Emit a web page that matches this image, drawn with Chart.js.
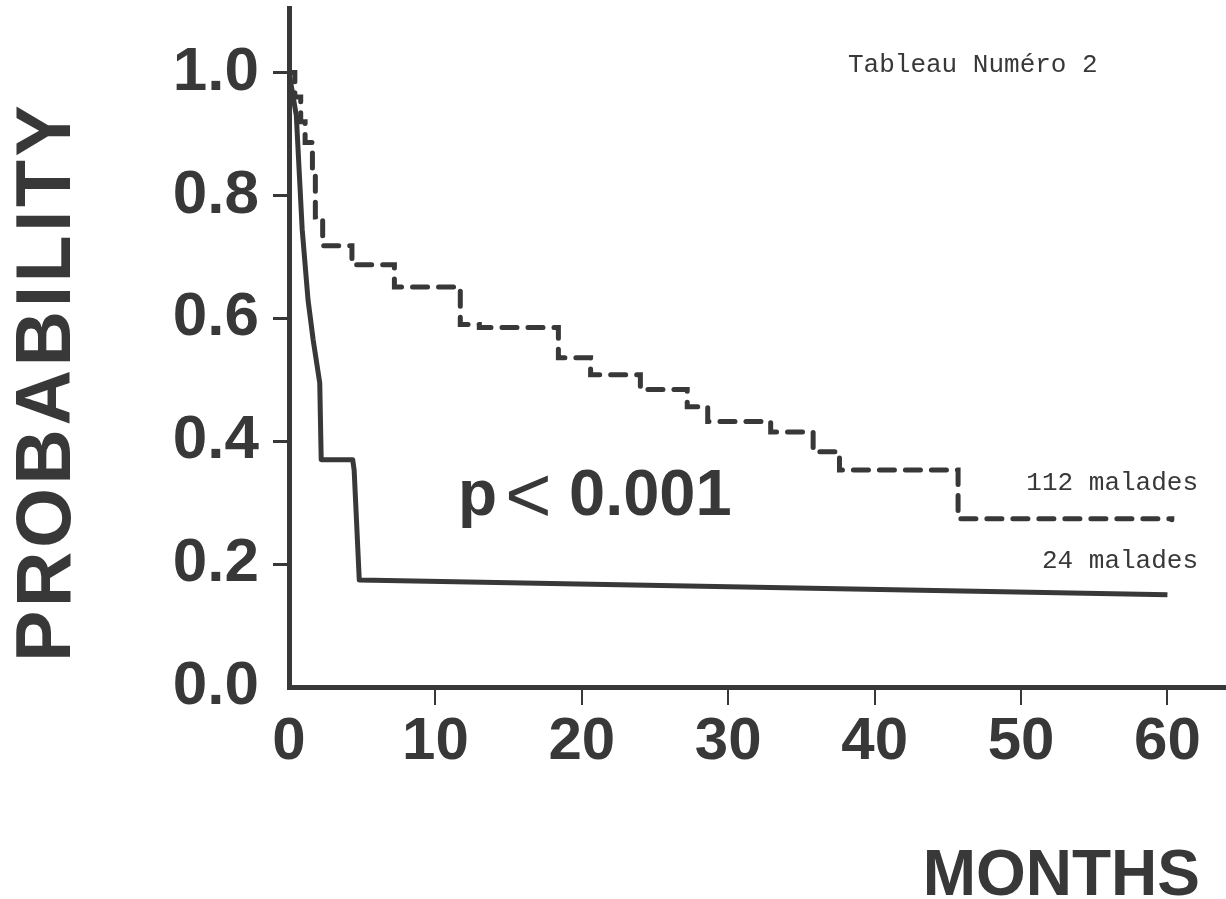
<!DOCTYPE html>
<html>
<head>
<meta charset="utf-8">
<script src="https://cdn.jsdelivr.net/npm/chart.js@4/dist/chart.umd.min.js"></script>
<style>
  body { margin: 0; background: #fff; }
  #wrap { width: 1226px; height: 899px; }
</style>
</head>
<body>
<div id="wrap"><canvas id="chart" width="1226" height="899"></canvas></div>
<script>
'use strict';
// values
var xTicks = [0, 10, 20, 30, 40, 50, 60];
var yTicks = [0, 0.2, 0.4, 0.6, 0.8, 1.0];

// 112 malades (dashed, step curve)
var months112 = [0, 0.4, 0.8, 1.1, 1.6, 1.8, 2.3, 4.3, 7.2, 11.7, 13.0, 18.4, 20.6, 24.0, 27.2, 28.6, 32.9, 35.8, 37.6, 45.7, 60.3];
var prob112 = [1.0, 0.96, 0.92, 0.886, 0.837, 0.765, 0.718, 0.687, 0.651, 0.590, 0.585, 0.536, 0.508, 0.484, 0.456, 0.432, 0.415, 0.383, 0.353, 0.274, 0.272];

// 24 malades (solid)
var months24 = [0, 0.5, 0.9, 1.3, 1.65, 2.1, 2.2, 4.35, 4.45, 4.8, 60.0];
var prob24 = [1.0, 0.93, 0.745, 0.63, 0.565, 0.495, 0.37, 0.37, 0.353, 0.174, 0.150];

var ink = '#383838';

function toPoints(xs, ys) {
  var pts = [];
  for (var i = 0; i < xs.length; i++) {
    pts.push({x: xs[i], y: ys[i]});
  }
  return pts;
}

// no tick mark at the origin
function tickColor(c) {
  return c.tick && c.tick.value === 0 ? 'rgba(0,0,0,0)' : ink;
}

// texts placed on top of the chart
var textPlugin = {
  id: 'texts',
  afterDraw: function(chart) {
    var ctx = chart.ctx;
    ctx.save();
    ctx.fillStyle = ink;
    ctx.textBaseline = 'alphabetic';

    ctx.font = '26px "Liberation Mono"';
    ctx.textAlign = 'left';
    ctx.fillText('Tableau Numéro 2', 848, 72);
    ctx.textAlign = 'right';
    ctx.fillText('112 malades', 1198, 490);
    ctx.fillText('24 malades', 1198, 568);

    ctx.textAlign = 'left';
    ctx.font = 'bold 64px "Liberation Sans"';
    ctx.fillText('p', 458, 515);
    ctx.font = '80px "Liberation Sans"';
    ctx.fillText('<', 505, 522);
    ctx.font = 'bold 65px "Liberation Sans"';
    ctx.fillText('0.001', 569, 515);

    ctx.font = 'bold 64px "Liberation Sans"';
    ctx.textAlign = 'right';
    ctx.fillText('MONTHS', 1200, 895);

    ctx.translate(70, 662);
    ctx.rotate(-Math.PI / 2);
    ctx.textAlign = 'left';
    ctx.font = 'bold 77px "Liberation Sans"';
    ctx.letterSpacing = '3.5px';
    ctx.fillText('PROBABILITY', 0, 0);
    ctx.restore();
  }
};

var ctx = document.getElementById('chart').getContext('2d');
new Chart(ctx, {
  type: 'line',
  data: {
    datasets: [
      {
        label: '112 malades',
        data: toPoints(months112, prob112),
        stepped: true,
        borderColor: ink,
        borderWidth: 5,
        borderDash: [15, 11],
        borderCapStyle: 'round',
        pointRadius: 0,
        fill: false
      },
      {
        label: '24 malades',
        data: toPoints(months24, prob24),
        borderColor: ink,
        borderWidth: 5,
        borderJoinStyle: 'round',
        pointRadius: 0,
        tension: 0,
        fill: false
      }
    ]
  },
  options: {
    responsive: false,
    animation: false,
    layout: { padding: { top: 8, right: 0, left: 0, bottom: 0 } },
    plugins: { legend: { display: false }, tooltip: { enabled: false } },
    scales: {
      x: {
        type: 'linear',
        min: 0,
        max: 64,
        afterBuildTicks: function(scale) {
          scale.ticks = xTicks.map(function(v) { return {value: v}; });
        },
        afterFit: function(scale) {
          scale.height = 212;
          scale.paddingLeft = 0;
          scale.paddingRight = 0;
        },
        border: { color: ink, width: 5 },
        grid: { drawOnChartArea: false, drawTicks: true, tickLength: 18, color: tickColor, lineWidth: 2 },
        ticks: {
          color: ink,
          padding: 1,
          maxRotation: 0,
          font: { family: 'Liberation Sans', weight: 'bold', size: 60 },
          callback: function(v) { return String(v); }
        }
      },
      y: {
        type: 'linear',
        min: 0,
        max: 1.105,
        afterBuildTicks: function(scale) {
          scale.ticks = yTicks.map(function(v) { return {value: v}; });
        },
        afterFit: function(scale) {
          scale.width = 289;
          scale.paddingTop = 0;
          scale.paddingBottom = 0;
        },
        border: { color: ink, width: 5 },
        grid: { drawOnChartArea: false, drawTicks: true, tickLength: 16, color: tickColor, lineWidth: 3 },
        ticks: {
          color: ink,
          padding: 14,
          font: { family: 'Liberation Sans', weight: 'bold', size: 62 },
          callback: function(v) { return v.toFixed(1); }
        }
      }
    }
  },
  plugins: [textPlugin]
});
</script>
</body>
</html>
